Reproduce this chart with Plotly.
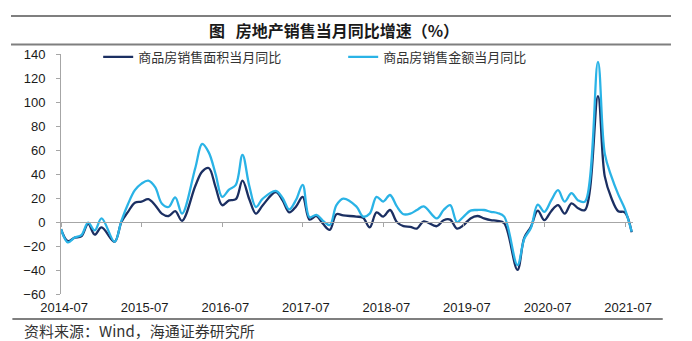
import pandas as pd
import plotly.graph_objects as go

# Monthly YoY growth (%) of commercial housing sales; January is folded into February.
area_2014 = [-6, -16, -13, -12, -1.5, -10.5, -4.5]            # Jun-Dec
area_2015 = [-16.5, 0, 8.5, 16, 17, 19, 14, 7, 5, 9, 1]        # Feb-Dec
area_2016 = [30, 42, 45, 29, 14, 18, 19, 34.5, 19, 7, 14]
area_2017 = [25, 18, 8, 13, 21, 2, 5, -1.5, -6.5, 6.5, 5.5]
area_2018 = [4.5, 3.5, -4.5, 8, 4.5, 10, 0, -3.5, -4, -5.5, 0.5]
area_2019 = [-3.5, 1.5, 2, -5.5, -2.5, 3, 5, 3, 1.5, 1, -1]
area_2020 = [-39.9, -13, -4, 9.5, 1.5, 9, 14, 7, 15.5, 11.5, 10]
area_2021 = [104.9, 38, 20, 9, 8, -8.5]                         # Feb-Jul

amount_2014 = [-6, -17, -13, -11, -0.5, -7, 3]
amount_2015 = [-16.5, 1, 15, 26.5, 32, 34.5, 29, 15.5, 12.5, 20.5, 7]
amount_2016 = [45, 65, 58, 40, 21, 27, 31, 56, 30, 12.5, 19.5]
amount_2017 = [26, 20, 10.5, 18.5, 31, 4, 6, 1, -2.5, 14, 19.5]
amount_2018 = [13, 4.5, 7, 21, 17, 22.5, 13, 6.5, 7, 10, 13]
amount_2019 = [3, 10, 14, 0, 4.5, 9.5, 10, 10, 8.5, 7.5, 4.5]
amount_2020 = [-35.9, -14, -5, 14.5, 8.5, 18, 26.5, 17, 24, 18, 17]
amount_2021 = [133.4, 57, 38, 23, 11, -8]

area = (area_2014 + area_2015 + area_2016 + area_2017 + area_2018
        + area_2019 + area_2020 + area_2021)
amount = (amount_2014 + amount_2015 + amount_2016 + amount_2017 + amount_2018
          + amount_2019 + amount_2020 + amount_2021)

# Month-end dates, Jun 2014 - Jul 2021, skipping January
periods = pd.period_range("2014-06", "2021-07", freq="M")
periods = periods[periods.month != 1]
dates = [p.to_timestamp(how="end").normalize() for p in periods]

tick_labels = ["2014-07", "2015-07", "2016-07", "2017-07",
               "2018-07", "2019-07", "2020-07", "2021-07"]
tick_dates = [pd.Timestamp(t + "-01") for t in tick_labels]
y_ticks = list(range(-60, 141, 20))

NAVY = "#1B2F62"
SKY = "#2AB3E6"
AXIS_GREY = "#A6A6A6"
RULE_GREY = "#7F7F7F"
x_range = ["2014-06-30", "2021-08-06"]

fig = go.Figure()
fig.add_trace(go.Scatter(
    x=dates, y=area, name="商品房销售面积当月同比", mode="lines",
    line=dict(color=NAVY, width=2.3, shape="spline", smoothing=1.0),
))
fig.add_trace(go.Scatter(
    x=dates, y=amount, name="商品房销售金额当月同比", mode="lines",
    line=dict(color=SKY, width=2.3, shape="spline", smoothing=1.0),
))
# carrier for the zero-crossing axis with July tick marks
fig.add_trace(go.Scatter(
    x=tick_dates, y=[0] * len(tick_dates), xaxis="x2", mode="markers",
    marker=dict(opacity=0), showlegend=False, hoverinfo="skip",
))

fig.update_layout(
    width=692, height=341, autosize=False,
    margin=dict(l=61, r=59, t=54, b=47),
    paper_bgcolor="white", plot_bgcolor="white",
    font=dict(family="Liberation Sans, Arial", size=13, color="#1a1a1a"),
    xaxis=dict(
        type="date", range=x_range, tickvals=tick_dates, ticktext=tick_labels,
        ticks="", showline=False, showgrid=False, zeroline=False,
        tickfont=dict(family="Liberation Sans, Arial", size=13, color="#1a1a1a"),
        ticklabelstandoff=4, ticklabelshift=3,
    ),
    xaxis2=dict(
        type="date", range=x_range, overlaying="x", anchor="free", position=0.3,
        tickvals=tick_dates, showticklabels=False, ticks="outside", ticklen=4,
        tickcolor=AXIS_GREY, showline=True, linecolor=AXIS_GREY, linewidth=1,
        showgrid=False, zeroline=False,
    ),
    yaxis=dict(
        range=[-60, 140], tickvals=y_ticks, ticks="outside", ticklen=4,
        tickcolor=AXIS_GREY, showline=True, linecolor=AXIS_GREY, linewidth=1,
        showgrid=False, zeroline=False, ticklabelstandoff=8,
        tickfont=dict(family="Liberation Sans, Arial", size=13, color="#1a1a1a"),
    ),
    legend=dict(
        orientation="h", x=0.065, xanchor="left", y=0.9875, yanchor="middle",
        bgcolor="rgba(0,0,0,0)", entrywidth=200, entrywidthmode="pixels",
        font=dict(family="Noto Sans CJK SC", size=13, color="#333333"),
        tracegroupgap=0,
    ),
    showlegend=True,
)

# header and footer rules
for y0, x0, x1 in [(1.1583, -0.0874, 1.0664), (1.040, -0.0874, 1.0664),
                   (-0.104, -0.085, 1.052)]:
    fig.add_shape(type="line", xref="paper", yref="paper",
                  x0=x0, x1=x1, y0=y0, y1=y0,
                  line=dict(color=RULE_GREY, width=2))

fig.add_annotation(
    text="<b>图\u2002\u2006房地产销售当月同比增速（%）</b>", xref="paper", yref="paper",
    x=0.477, y=1.099, xanchor="center", yanchor="middle", showarrow=False,
    font=dict(family="Noto Sans CJK SC", size=16, color="#1a1a1a"),
)
fig.add_annotation(
    text="资料来源：Wind，海通证券研究所", xref="paper", yref="paper",
    x=-0.068, y=-0.15, xanchor="left", yanchor="middle", showarrow=False,
    font=dict(family="Noto Sans CJK SC", size=15, color="#333333"),
)

fig.write_html("out.html")
